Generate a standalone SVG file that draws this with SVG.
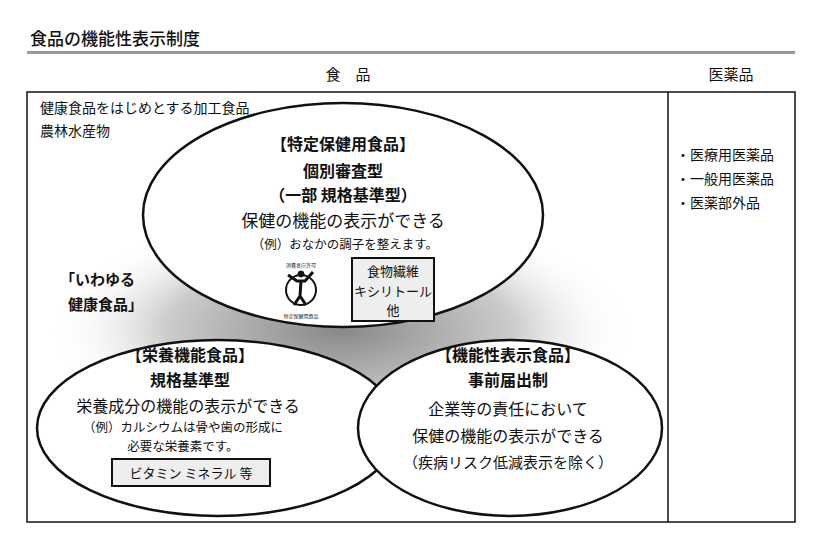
<svg xmlns="http://www.w3.org/2000/svg" width="820" height="550" viewBox="0 0 820 550">
<defs>
<radialGradient id="sh" cx="0.5" cy="0.5" r="0.5">
<stop offset="0" stop-color="#888"/><stop offset="0.6" stop-color="#ccc"/><stop offset="1" stop-color="#fff" stop-opacity="0"/>
</radialGradient>
<style>
text{font-family:"Noto Sans CJK JP","Noto Sans",sans-serif;fill:#111}
.e{fill:#fff;stroke:#111;stroke-width:2.5}
.c{text-anchor:middle}
.b{font-weight:bold}
.box{fill:#eee;stroke:#111;stroke-width:2}
</style>
</defs>
<text x="30" y="45" font-size="17" font-weight="500">食品の機能性表示制度</text>
<rect x="27" y="51" width="768" height="3" fill="#999"/>
<text x="348" y="80" font-size="15" class="c">食　品</text>
<text x="731" y="80" font-size="15" class="c">医薬品</text>
<g id="frame" fill="none" stroke="#111" stroke-width="1.5">
<rect x="27" y="92" width="768" height="430"/>
<line x1="668" y1="92" x2="668" y2="522"/>
</g>
<ellipse cx="340" cy="330" rx="290" ry="120" fill="url(#sh)"/>
<text x="40" y="113" font-size="14">健康食品をはじめとする加工食品</text>
<text x="40" y="136" font-size="14">農林水産物</text>
<text x="60" y="285" font-size="15" class="b">「いわゆる</text>
<text x="68" y="310" font-size="15" class="b">健康食品」</text>
<g id="n1">
<ellipse class="e" cx="343" cy="215" rx="200" ry="112"/>
<text x="343" y="150" font-size="16" class="c b">【特定保健用食品】</text>
<text x="343" y="177" font-size="16" class="c b">個別審査型</text>
<text x="343" y="201" font-size="16" class="c b">（一部 規格基準型）</text>
<text x="343" y="227" font-size="17" class="c">保健の機能の表示ができる</text>
<text x="345" y="249" font-size="12.5" class="c">（例）おなかの調子を整えます。</text>
<g id="logo" fill="none" stroke="#111">
<circle cx="301" cy="290" r="15" stroke-width="2"/>
<circle cx="301" cy="274" r="3" fill="#111"/>
<path d="M288 275 L297 281 L305 281 L313 272 M301 281 L300 296 L294 305 M300 296 L306 305" stroke-width="3"/>
</g>
<text x="301" y="267" font-size="5" class="c">消費者庁許可</text>
<text x="301" y="318" font-size="5" class="c">特定保健用食品</text>
<rect class="box" x="352" y="258" width="82" height="63"/>
<text x="393" y="276" font-size="13" class="c">食物繊維</text>
<text x="393" y="296" font-size="13" class="c">キシリトール</text>
<text x="393" y="315" font-size="13" class="c">他</text>
</g>
<g id="n2">
<ellipse class="e" cx="218" cy="428" rx="181" ry="88"/>
<text x="190" y="361" font-size="16" class="c b">【栄養機能食品】</text>
<text x="190" y="386" font-size="16" class="c b">規格基準型</text>
<text x="188" y="412" font-size="16" class="c">栄養成分の機能の表示ができる</text>
<text x="183" y="432" font-size="12.5" class="c">（例）カルシウムは骨や歯の形成に</text>
<text x="183" y="451" font-size="12.5" class="c">必要な栄養素です。</text>
<rect class="box" x="112" y="459" width="158" height="27"/>
<text x="191" y="478" font-size="13" class="c">ビタミン ミネラル 等</text>
</g>
<g id="n3">
<ellipse class="e" cx="510" cy="428" rx="152" ry="88"/>
<text x="508" y="361" font-size="16" class="c b">【機能性表示食品】</text>
<text x="508" y="386" font-size="16" class="c b">事前届出制</text>
<text x="508" y="415" font-size="16" class="c">企業等の責任において</text>
<text x="508" y="442" font-size="16" class="c">保健の機能の表示ができる</text>
<text x="508" y="468" font-size="15" class="c">（疾病リスク低減表示を除く）</text>
</g>
<g id="drugs" font-size="14">
<text x="676" y="160">・医療用医薬品</text>
<text x="676" y="184">・一般用医薬品</text>
<text x="676" y="208">・医薬部外品</text>
</g>
<g id="connectors"/>
</svg>
